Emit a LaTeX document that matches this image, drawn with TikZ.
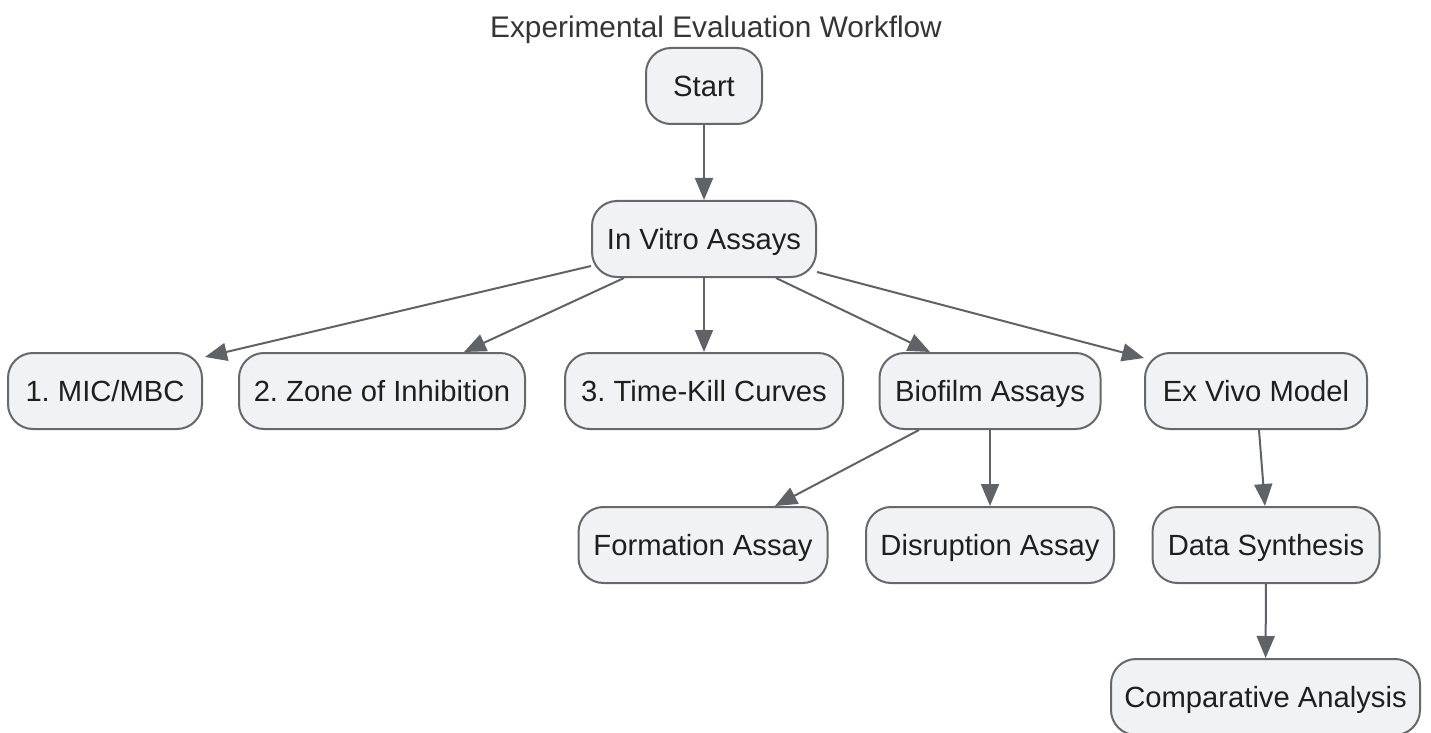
\documentclass[tikz,border=0pt]{standalone}
\usepackage{fontspec}
\setmainfont{Liberation Sans}
\usetikzlibrary{arrows.meta,calc}
\definecolor{boxfill}{HTML}{F1F2F5}
\definecolor{boxline}{HTML}{66686C}
\definecolor{edgecol}{HTML}{5F6266}
\definecolor{txt}{HTML}{1F1F1F}
\frenchspacing
\begin{document}
\frenchspacing
\begin{tikzpicture}[x=0.5pt,y=-0.5pt,
  box/.style={draw=boxline,fill=boxfill,line width=1pt,rounded corners=12.5pt,
    minimum height=38pt,inner sep=0pt,text=txt,text height=10.5pt,text depth=0pt,
    font=\fontsize{14.6}{17}\selectfont},
  flow/.style={draw=edgecol,line width=1pt,-{Triangle[length=11pt,width=9pt]}}]
\useasboundingbox (0,0) rectangle (1431,733);
\node[text=txt!90,text height=10.7pt,text depth=0pt,font=\fontsize{14.9}{17}\selectfont] (title) at (716,27) {Experimental Evaluation Workflow};
\node[box,minimum width=58pt] (start) at (704,86) {Start};
\node[box,minimum width=112pt] (iv) at (704,239) {In Vitro Assays};
\node[box,minimum width=97pt] (mic) at (105,391) {1. MIC/MBC};
\node[box,minimum width=143pt] (zone) at (382,391) {2. Zone of Inhibition};
\node[box,minimum width=139pt] (tk) at (704,391) {3. Time-Kill Curves};
\node[box,minimum width=110.5pt] (bio) at (990,391) {Biofilm Assays};
\node[box,minimum width=111pt] (ex) at (1256,391) {Ex Vivo Model};
\node[box,minimum width=124.5pt] (form) at (703,545) {Formation Assay};
\node[box,minimum width=124pt] (dis) at (990,545) {Disruption Assay};
\node[box,minimum width=113.5pt] (data) at (1266,545) {Data Synthesis};
\node[box,minimum width=154.5pt] (comp) at (1265.5,697) {Comparative Analysis};
\draw[flow] (start) -- (iv);
\draw[flow] ($(iv.west)+(0,27)$) -- ($(mic.north east)+(2,5)$);
\draw[flow] ($(iv.south)+(-80,0)$) -- ($(zone.north)+(82,0)$);
\draw[flow] (iv) -- (tk);
\draw[flow] ($(iv.south)+(72,0)$) -- ($(bio.north)+(-60,0)$);
\draw[flow] ($(iv.east)+(0,33)$) -- ($(ex.north west)+(0,6)$);
\draw[flow] ($(bio.south)+(-71,0)$) -- ($(form.north)+(72,0)$);
\draw[flow] (bio) -- (dis);
\draw[flow] ($(ex.south)+(3,0)$) -- ($(data.north)+(-1,0)$);
\draw[flow] (data) -- (comp);
\end{tikzpicture}
\end{document}
